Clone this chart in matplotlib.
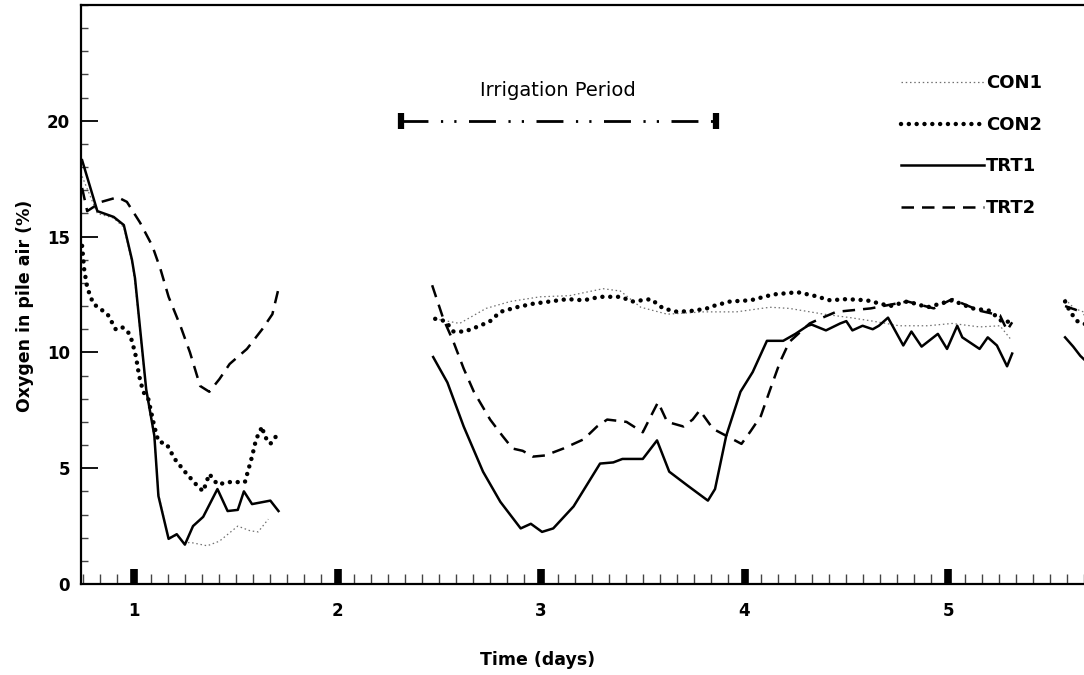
import numpy as np
import matplotlib
matplotlib.use("Agg")
import matplotlib.pyplot as plt
from matplotlib.ticker import MultipleLocator

nan = np.nan

# ---------------- data (time in days, O2 in %) ----------------
con1_t = [0.745, 0.82, 0.90, 0.95, 0.99, 1.005, 1.06, 1.10, 1.12, 1.17, 1.21, 1.25, 1.275, 1.36, 1.42, 1.51, 1.57, 1.61, 1.66,
          nan,
          2.48, 2.60, 2.73, 2.85, 2.995, 3.14, 3.305, 3.39, 3.49, 3.62, 3.80, 3.96, 4.125, 4.22, 4.39, 4.52, 4.63, 4.76,
          4.90, 5.02, 5.155, 5.255, 5.305,
          nan,
          5.575, 5.62, 5.68]
con1_o2 = [17.6, 16.0, 15.8, 15.4, 13.9, 13.0, 8.3, 6.3, 3.9, 2.0, 2.1, 1.75, 1.8, 1.65, 1.85, 2.5, 2.3, 2.25, 2.8,
           nan,
           11.45, 11.25, 11.9, 12.2, 12.4, 12.45, 12.75, 12.65, 11.95, 11.65, 11.75, 11.75, 11.95, 11.9, 11.65, 11.5, 11.35, 11.15,
           11.15, 11.25, 11.1, 11.15, 10.6,
           nan,
           12.3, 11.9, 11.7]

con2_t = [0.745, 0.755, 0.77, 0.80, 0.87, 0.91, 0.94, 0.97, 0.99, 1.01, 1.025, 1.045, 1.07, 1.10, 1.12, 1.16, 1.20, 1.25,
          1.31, 1.34, 1.37, 1.41, 1.47, 1.545, 1.58, 1.60, 1.63, 1.64, 1.67, 1.70,
          nan,
          2.48, 2.53, 2.57, 2.625, 2.70, 2.75, 2.80, 2.88, 2.96, 3.045, 3.13, 3.21, 3.29, 3.39, 3.45, 3.54, 3.60, 3.67,
          3.75, 3.815, 3.845, 3.93, 4.03, 4.14, 4.26, 4.34, 4.42, 4.50, 4.60, 4.715, 4.80, 4.90, 5.02, 5.12, 5.205,
          5.27, 5.315,
          nan,
          5.575, 5.60, 5.635, 5.68]
con2_o2 = [14.6, 13.6, 12.8, 12.1, 11.65, 11.0, 11.1, 10.9, 10.5, 9.8, 9.0, 8.3, 8.0, 6.8, 6.15, 6.05, 5.4, 4.85,
           4.25, 4.0, 4.75, 4.3, 4.4, 4.4, 5.5, 6.25, 6.8, 6.4, 6.05, 6.4,
           nan,
           11.45, 11.35, 10.9, 10.9, 11.15, 11.35, 11.75, 11.95, 12.1, 12.2, 12.3, 12.25, 12.4, 12.4, 12.2, 12.3, 11.9, 11.75,
           11.8, 11.9, 12.0, 12.2, 12.25, 12.5, 12.6, 12.45, 12.25, 12.3, 12.25, 12.0, 12.2, 11.95, 12.25, 11.9, 11.8,
           11.3, 11.35,
           nan,
           12.2, 11.75, 11.35, 11.2]

trt1_t = [0.745, 0.82, 0.90, 0.95, 0.99, 1.005, 1.06, 1.10, 1.12, 1.17, 1.21, 1.25, 1.29, 1.34, 1.41, 1.46, 1.51, 1.54,
          1.58, 1.67, 1.71,
          nan,
          2.47, 2.54, 2.62, 2.715, 2.80, 2.90, 2.95, 3.005, 3.06, 3.16, 3.29, 3.355, 3.40, 3.50, 3.57, 3.63, 3.72, 3.82,
          3.855, 3.91, 3.98, 4.04, 4.11, 4.19, 4.25, 4.31, 4.33, 4.40, 4.47, 4.50, 4.53, 4.58, 4.63, 4.66, 4.705, 4.78,
          4.82, 4.87, 4.95, 4.995, 5.045, 5.07, 5.155, 5.195, 5.24, 5.29, 5.315,
          nan,
          5.575, 5.615, 5.65, 5.68]
trt1_o2 = [18.3, 16.1, 15.85, 15.5, 14.0, 13.2, 8.4, 6.4, 3.8, 1.95, 2.15, 1.7, 2.5, 2.9, 4.1, 3.15, 3.2, 4.0,
           3.45, 3.6, 3.15,
           nan,
           9.8, 8.7, 6.8, 4.85, 3.55, 2.4, 2.6, 2.25, 2.4, 3.35, 5.2, 5.25, 5.4, 5.4, 6.2, 4.85, 4.25, 3.6,
           4.1, 6.4, 8.3, 9.15, 10.5, 10.5, 10.8, 11.15, 11.2, 10.95, 11.25, 11.35, 10.95, 11.15, 11.0, 11.15, 11.5, 10.3,
           10.9, 10.25, 10.8, 10.15, 11.15, 10.65, 10.15, 10.65, 10.3, 9.4, 9.95,
           nan,
           10.65, 10.25, 9.85, 9.6]

trt2_t = [0.745, 0.77, 0.84, 0.92, 0.965, 1.03, 1.09, 1.13, 1.17, 1.23, 1.275, 1.325, 1.37, 1.42, 1.47, 1.555, 1.63,
          1.68, 1.71,
          nan,
          2.465, 2.52, 2.57, 2.62, 2.67, 2.75, 2.81, 2.86, 2.91, 2.96, 3.02, 3.11, 3.21, 3.275, 3.325, 3.42, 3.50, 3.54,
          3.575, 3.62, 3.70, 3.745, 3.78, 3.845, 3.91, 3.985, 4.03, 4.08, 4.13, 4.175, 4.22, 4.32, 4.37, 4.45, 4.62,
          4.80, 4.93, 5.02, 5.155, 5.255, 5.29, 5.315,
          nan,
          5.575, 5.64, 5.68]
trt2_o2 = [17.1, 16.1, 16.5, 16.7, 16.5, 15.6, 14.6, 13.6, 12.4, 11.1, 10.0, 8.55, 8.3, 8.85, 9.5, 10.15, 11.0,
           11.65, 12.75,
           nan,
           12.9, 11.45, 10.45, 9.3, 8.3, 7.1, 6.4, 5.85, 5.75, 5.5, 5.55, 5.85, 6.25, 6.8, 7.1, 7.0, 6.55, 7.25,
           7.85, 7.0, 6.8, 7.1, 7.5, 6.7, 6.4, 6.05, 6.6, 7.25, 8.5, 9.6, 10.45, 11.25, 11.45, 11.75, 11.9,
           12.2, 11.9, 12.3, 11.8, 11.6, 10.95, 11.3,
           nan,
           12.0, 11.8, 11.6]

series_names = ["CON1", "CON2", "TRT1", "TRT2"]
irrigation_days = [2.31, 3.86]
irrigation_level = 20.0
irrigation_label = "Irrigation Period"
x_ticks = [1, 2, 3, 4, 5]
y_ticks = [0, 5, 10, 15, 20]

# ---------------- figure ----------------
plt.rcParams["font.family"] = ["DejaVu Sans"]
fig = plt.figure(figsize=(10.84, 6.75), dpi=100)
ax = fig.add_axes([81 / 1084, 1 - 584 / 675, 1003 / 1084, 579 / 675])

ax.plot(np.array(con1_t, float), np.array(con1_o2, float), color="#707070", lw=0.9,
        linestyle=(0, (1.2, 2.2)), label=series_names[0])
ax.plot(np.array(con2_t, float), np.array(con2_o2, float), color="black", lw=3.2,
        linestyle=(0, (0.01, 1.75)), dash_capstyle="round", label=series_names[1])
ax.plot(np.array(trt1_t, float), np.array(trt1_o2, float), color="black", lw=1.8,
        linestyle="-", label=series_names[2])
ax.plot(np.array(trt2_t, float), np.array(trt2_o2, float), color="black", lw=1.8,
        linestyle=(0, (5, 3.2)), label=series_names[3])

# irrigation period marker
ax.plot(irrigation_days, [irrigation_level] * 2, color="black", lw=2,
        linestyle=(0, (9.7, 4.5, 0.8, 4.0, 0.8, 4.5)), solid_capstyle="butt")
ax.plot(irrigation_days, [irrigation_level] * 2, linestyle="none", marker="|",
        ms=11, mew=4.5, color="black")
ax.text(np.mean(irrigation_days), irrigation_level + 1.3, irrigation_label,
        ha="center", va="center", fontsize=14)

ax.set_xlim(0.7396, 5.668)
ax.set_ylim(0, 25)

ax.set_xticks(x_ticks)
ax.set_xticklabels([str(v) for v in x_ticks])
ax.xaxis.set_minor_locator(MultipleLocator(1 / 12))
ax.set_yticks(y_ticks)
ax.yaxis.set_minor_locator(MultipleLocator(1))

ax.tick_params(axis="x", which="major", direction="in", length=11, width=5.5,
               pad=13, labelsize=12)
ax.tick_params(axis="x", which="minor", direction="in", length=7, width=1.0,
               color="#444444")
ax.tick_params(axis="y", which="major", direction="in", length=12, width=1.3,
               pad=8, labelsize=12)
ax.tick_params(axis="y", which="minor", direction="in", length=5, width=1.0,
               color="#444444")
for lab in ax.get_xticklabels() + ax.get_yticklabels():
    lab.set_fontweight("bold")

for s in ["left", "bottom", "top"]:
    ax.spines[s].set_linewidth(1.6)
ax.spines["right"].set_visible(False)

ax.set_xlabel("Time (days)", fontsize=12.5, fontweight="bold")
ax.xaxis.set_label_coords(0.455, -0.115)
ax.set_ylabel("Oxygen in pile air (%)", fontsize=12.5, fontweight="bold")
ax.yaxis.set_label_coords(-0.047, 0.48)

leg = ax.legend(loc="upper right", bbox_to_anchor=(0.958, 0.88), frameon=False,
                handlelength=4.6, handletextpad=0.1, labelspacing=1.3,
                borderpad=0, borderaxespad=0, prop={"weight": "bold", "size": 13})

fig.savefig("out.png", dpi=100)
